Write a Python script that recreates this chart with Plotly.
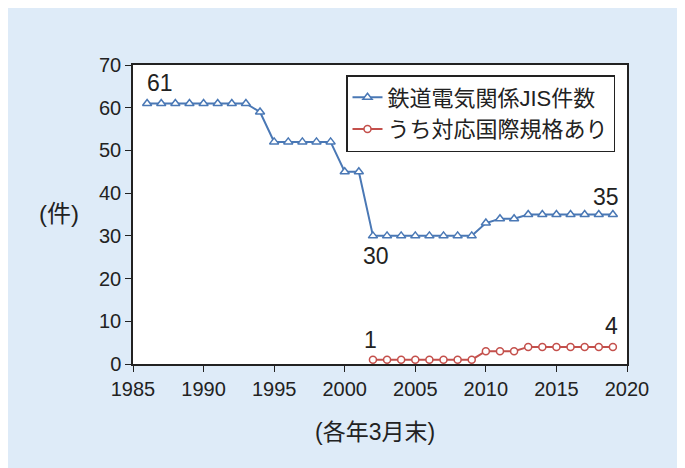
import plotly.graph_objects as go

years_jis = list(range(1986, 2020))
jis_counts = [61, 61, 61, 61, 61, 61, 61, 61, 59,
              52, 52, 52, 52, 52, 45, 45,
              30, 30, 30, 30, 30, 30, 30, 30,
              33, 34, 34, 35, 35, 35, 35, 35, 35, 35]
years_intl = list(range(2002, 2020))
intl_counts = [1, 1, 1, 1, 1, 1, 1, 1, 3, 3, 3, 4, 4, 4, 4, 4, 4, 4]
series_names = ["鉄道電気関係JIS件数", "うち対応国際規格あり"]
x_ticks = [1985, 1990, 1995, 2000, 2005, 2010, 2015, 2020]
y_ticks = [0, 10, 20, 30, 40, 50, 60, 70]

BLUE = "#4a78b5"
RED = "#c4504c"
FONT = "Liberation Sans, Arial, Noto Sans CJK JP, sans-serif"
W, H = 685, 468
OFF = 8  # page body margin
ML, MR, MT, MB = 133 - OFF, W - (627 - OFF), 65 - OFF, H - (364 - OFF)
pw, ph = W - ML - MR, H - MT - MB

def px(x):
    return (x - OFF - ML) / pw
def py(y):
    return (H - MB - (y - OFF)) / ph

fig = go.Figure()
fig.add_trace(go.Scatter(
    x=years_jis, y=jis_counts, name=series_names[0], mode="lines+markers",
    line=dict(color=BLUE, width=2),
    marker=dict(symbol="triangle-up", size=8, color="white", line=dict(color=BLUE, width=1.5)),
))
fig.add_trace(go.Scatter(
    x=years_intl, y=intl_counts, name=series_names[1], mode="lines+markers",
    line=dict(color=RED, width=2),
    marker=dict(symbol="circle", size=7, color="white", line=dict(color=RED, width=1.5)),
))

ann_font = dict(family=FONT, size=23, color="#222")
labels = [
    (1986.9, jis_counts[1], "61", 20),
    (2002.2, jis_counts[16], "30", -20),
    (2018.5, jis_counts[-1], "35", 18),
    (2001.8, intl_counts[0], "1", 20),
    (2018.9, intl_counts[-1], "4", 21),
]
for x, y, t, ys in labels:
    fig.add_annotation(x=x, y=y, text=t, showarrow=False, yshift=ys, font=ann_font)

fig.add_annotation(xref="paper", yref="paper", x=px(59), y=py(213), xanchor="center", yanchor="middle",
                   text="(件)", showarrow=False, font=dict(family=FONT, size=24, color="#222"))
fig.add_annotation(xref="paper", yref="paper", x=px(375), y=py(432), xanchor="center", yanchor="middle",
                   text="(各年3月末)", showarrow=False, font=dict(family=FONT, size=23, color="#222"))

axis_common = dict(showline=True, linecolor="#222", linewidth=1.5, mirror=True,
                   ticks="outside", ticklen=6, tickcolor="#222", tickwidth=1.2,
                   showgrid=False, zeroline=False,
                   tickfont=dict(family=FONT, size=20, color="#222"))
fig.update_xaxes(range=[1985, 2020], tickvals=x_ticks, **axis_common)
fig.update_yaxes(range=[0, 70], tickvals=y_ticks, **axis_common)

fig.update_layout(
    width=W, height=H, margin=dict(l=ML, r=MR, t=MT, b=MB, autoexpand=False),
    paper_bgcolor="#deebf8", plot_bgcolor="white",
    font=dict(family=FONT, color="#222"),
    showlegend=True,
    legend=dict(x=px(615), y=py(75), xanchor="right", yanchor="top",
                bgcolor="white", bordercolor="#222", borderwidth=1.5,
                font=dict(family=FONT, size=22, color="#222"),
                tracegroupgap=0, itemwidth=30),
)

fig.write_html("out.html")
